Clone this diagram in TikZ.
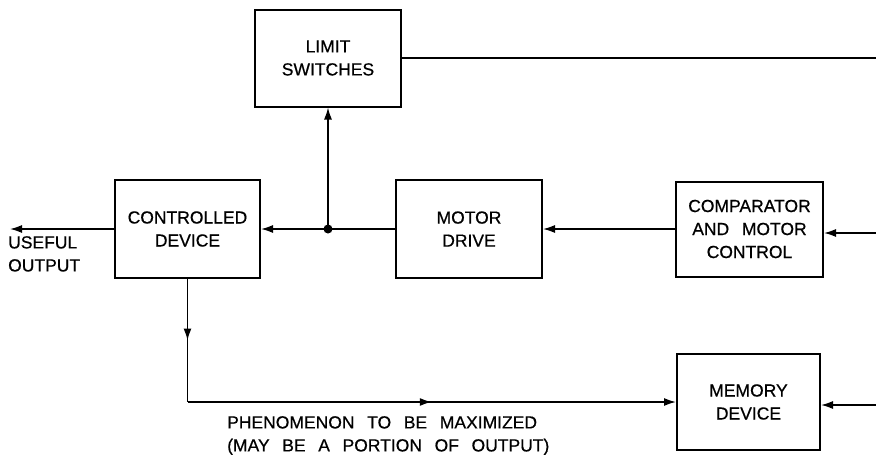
\documentclass[tikz,border=0pt]{standalone}
\usepackage{fontspec}
\setsansfont[WordSpace=2.6, FakeBold=0.6]{Liberation Sans}
\usepackage{tikz}
\usetikzlibrary{arrows.meta, positioning, decorations.markings}

\begin{document}
\begin{tikzpicture}[
  x=1pt, y=-1pt,
  font=\sffamily\fontsize{17.5}{23}\selectfont,
  bloc/.style={
    draw, line width=2pt,
    align=center,
    inner sep=2pt,
    minimum width=146pt,
    minimum height=97pt
  },
  trait/.style={line width=1.5pt},
  fleche/.style={
    arrows={-Latex[length=12pt, width=8pt]},
    line width=1.5pt
  },
  milieu/.style={
    postaction={decorate},
    decoration={markings,
      mark=at position 0.5 with {\arrow{Latex[length=12pt, width=8pt]}}}
  }
]
\useasboundingbox (0,0) rectangle (876,455);

% ----- Blocs -----
\node[bloc] (limites) at (328, 58) {LIMIT\\SWITCHES};
\node[bloc, minimum width=145pt, minimum height=98pt] (ctrl) at (187.5, 229) {CONTROLLED\\DEVICE};
\node[bloc, minimum height=98pt] (moteur) at (469, 229) {MOTOR\\DRIVE};
\node[bloc, minimum width=147pt, minimum height=95pt] (comp) at (749.5, 229) {COMPARATOR\\AND MOTOR\\CONTROL};
\node[bloc, minimum width=143pt, minimum height=96pt] (memoire) at (748.5, 402) {MEMORY\\DEVICE};

% ----- Points libres -----
\coordinate (utile) at (10, 226);
\coordinate (bord) at (876, 0);
\coordinate (entreeA) at (876, 233);
\coordinate (entreeB) at (876, 405);
\coordinate (noeud) at (limites.south |- ctrl.east);
\coordinate (coude) at (ctrl.south |- memoire.west);

% ----- Liaisons -----
\draw[trait] (moteur.west) -- (noeud);
\draw[fleche] (noeud) -- (ctrl.east);
\draw[fleche] (noeud) -- (limites.south);
\fill (noeud) circle (4.5pt);
\draw[fleche] (comp.west) -- (moteur.east);
\draw[fleche] (ctrl.west) -- (ctrl.west -| utile);
\draw[trait] (limites.east) -- (limites.east -| bord);
\draw[fleche] (entreeA) -- (entreeA -| comp.east);
\draw[fleche] (entreeB) -- (entreeB -| memoire.east);
\draw[trait, milieu] (ctrl.south) -- (coude);
\draw[fleche, milieu] (coude) -- (memoire.west);

% ----- Textes -----
\node[anchor=north west, align=left, inner sep=0pt] (sortie) at (8, 236) {USEFUL\\OUTPUT};
\node[anchor=north west, align=left, inner sep=0pt] (phenomene) at (227, 416)
  {PHENOMENON TO BE MAXIMIZED\\(MAY BE A PORTION OF OUTPUT)};

\end{tikzpicture}
\end{document}
